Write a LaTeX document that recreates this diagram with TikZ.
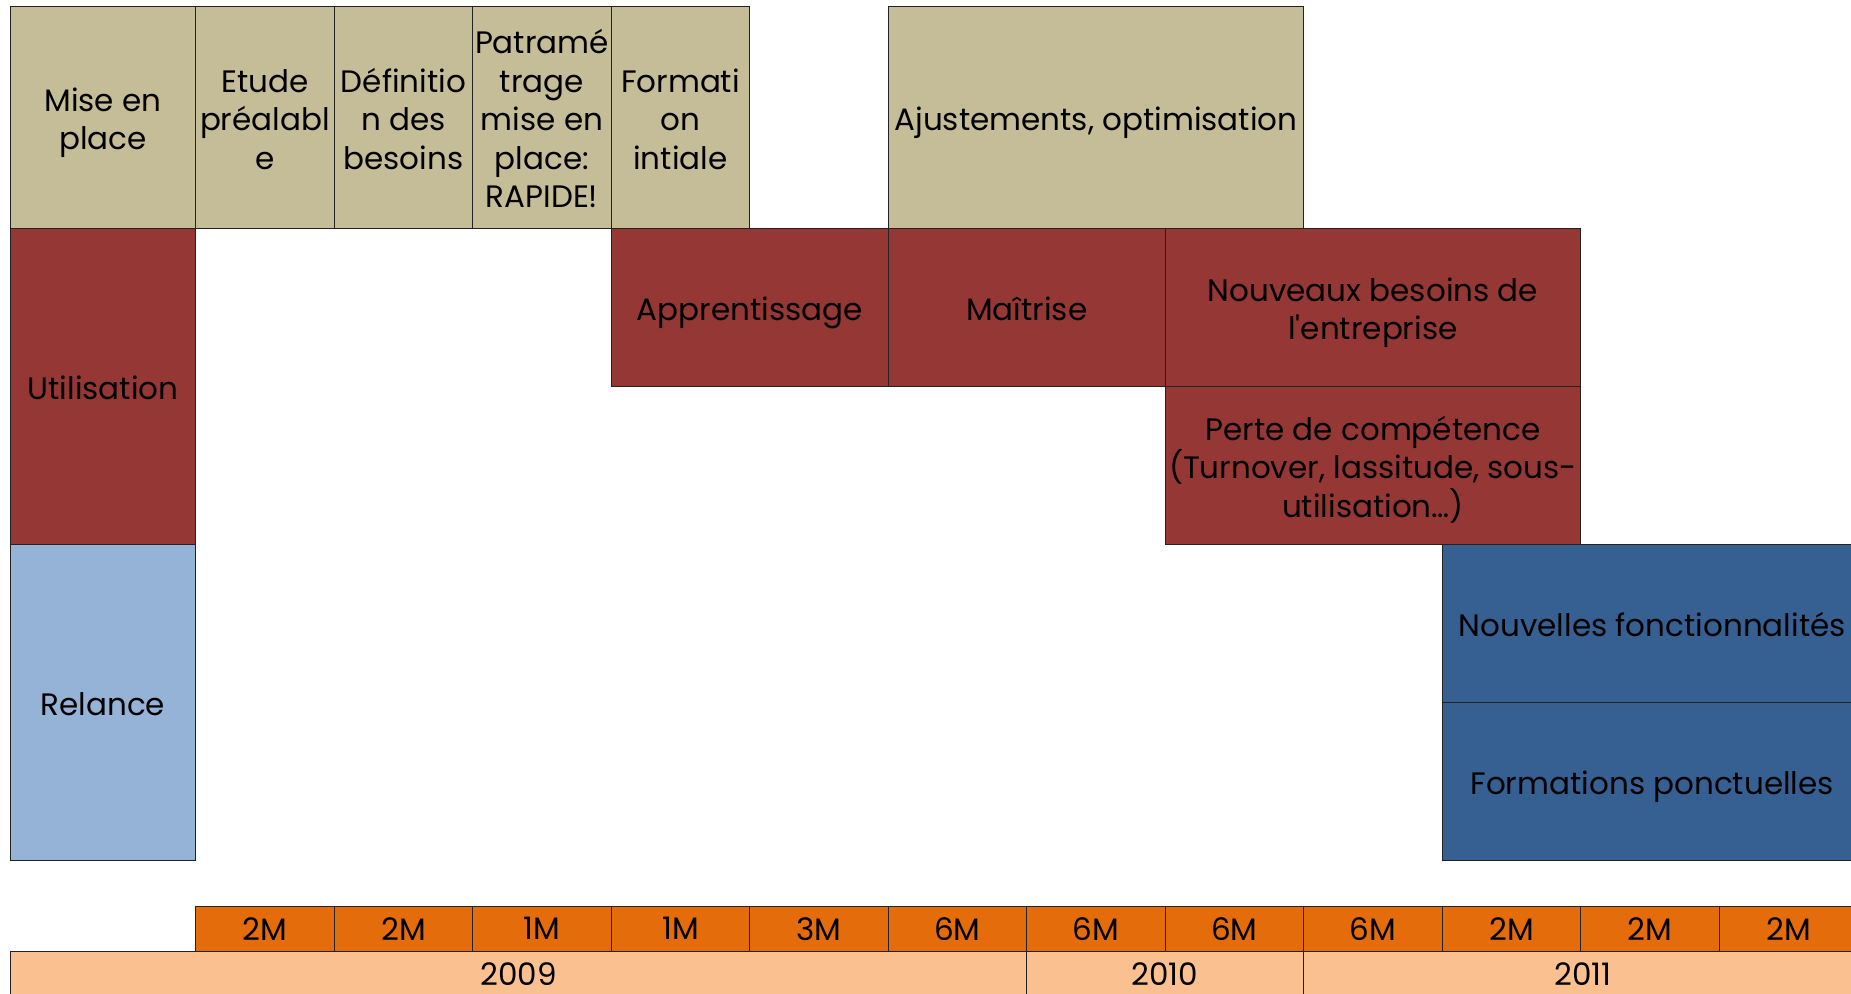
\documentclass[tikz,border=0pt]{standalone}
\usepackage{fontspec}
\newfontfamily\pop{Poppins}
\newcommand\stT{\rule{0pt}{16.9pt}}
\newcommand\stB{\rule[-4pt]{0pt}{4pt}}
\definecolor{tan}{HTML}{C4BD97}
\definecolor{darkred}{HTML}{953735}
\definecolor{lightblue}{HTML}{95B3D7}
\definecolor{darkblue}{HTML}{376092}
\definecolor{orangecell}{HTML}{E46C0A}
\definecolor{peach}{HTML}{FAC090}
\definecolor{edge}{HTML}{222222}
\tikzset{
  cellbox/.style 2 args={draw=edge, line width=0.7pt, anchor=north west, inner sep=0pt,
    minimum width=#1*0.5pt, minimum height=#2*0.5pt, align=center,
    font=\pop\fontsize{15.5pt}{19.2pt}\selectfont, text=black},
  tanbox/.style={fill=tan},
  redbox/.style={fill=darkred},
  lbbox/.style={fill=lightblue},
  dbbox/.style={fill=darkblue},
  monthbox/.style={fill=orangecell},
  yearbox/.style={fill=peach},
}
\begin{document}
\begin{tikzpicture}[x=0.5pt,y=-0.5pt]
\useasboundingbox (0,0) rectangle (1851,993);
\clip (0,0) rectangle (1851,993);
% Mise en place row
\node[cellbox={185.5}{222}, tanbox] (mep) at (9.5,6) {\stT Mise en\\place\stB};
\node[cellbox={138.5}{222}, tanbox] (etude) at (195,6) {\stT Etude\\préalabl\\e\stB};
\node[cellbox={138.5}{222}, tanbox] (def) at (333.5,6) {\stT Définitio\\n des\\besoins\stB};
\node[cellbox={138.5}{222}, tanbox] (param) at (472,6) {\stT Patramé\\trage\\mise en\\place:\\RAPIDE!\stB};
\node[cellbox={138.5}{222}, tanbox] (forma) at (610.5,6) {\stT Formati\\on\\intiale\stB};
\node[cellbox={415.5}{222}, tanbox] (ajust) at (887.5,6) {\stT Ajustements, optimisation\stB};
% Utilisation row
\node[cellbox={185.5}{316}, redbox] (util) at (9.5,228) {\stT Utilisation\stB};
\node[cellbox={277}{158}, redbox] (appr) at (610.5,228) {\stT Apprentissage\stB};
\node[cellbox={277}{158}, redbox] (maitr) at (887.5,228) {\stT Maîtrise\stB};
\node[cellbox={415.5}{158}, redbox] (nouv) at (1164.5,228) {\stT Nouveaux besoins de\\l'entreprise\stB};
\node[cellbox={415.5}{158}, redbox] (perte) at (1164.5,386) {\stT Perte de compétence\\(Turnover, lassitude, sous-\\utilisation…)\stB};
% Relance row
\node[cellbox={185.5}{316}, lbbox] (rel) at (9.5,544) {\stT Relance\stB};
\node[cellbox={420}{158}, dbbox] (nf) at (1441.5,544) {\stT Nouvelles fonctionnalités\stB};
\node[cellbox={420}{158}, dbbox] (fp) at (1441.5,702) {\stT Formations ponctuelles\stB};
% Months
\foreach \lab [count=\i from 0] in {2M,2M,1M,1M,3M,6M,6M,6M,6M,2M,2M,2M}{
  \node[cellbox={138.5}{45}, monthbox] (m\i) at ({195+138.5*\i},905.5) {\lab};
}
% Years
\node[cellbox={1016.5}{46}, yearbox] (y2009) at (9.5,950.5) {2009};
\node[cellbox={276.5}{46}, yearbox] (y2010) at (1026,950.5) {2010};
\node[cellbox={560}{46}, yearbox] (y2011) at (1302.5,950.5) {2011};
\end{tikzpicture}
\end{document}
